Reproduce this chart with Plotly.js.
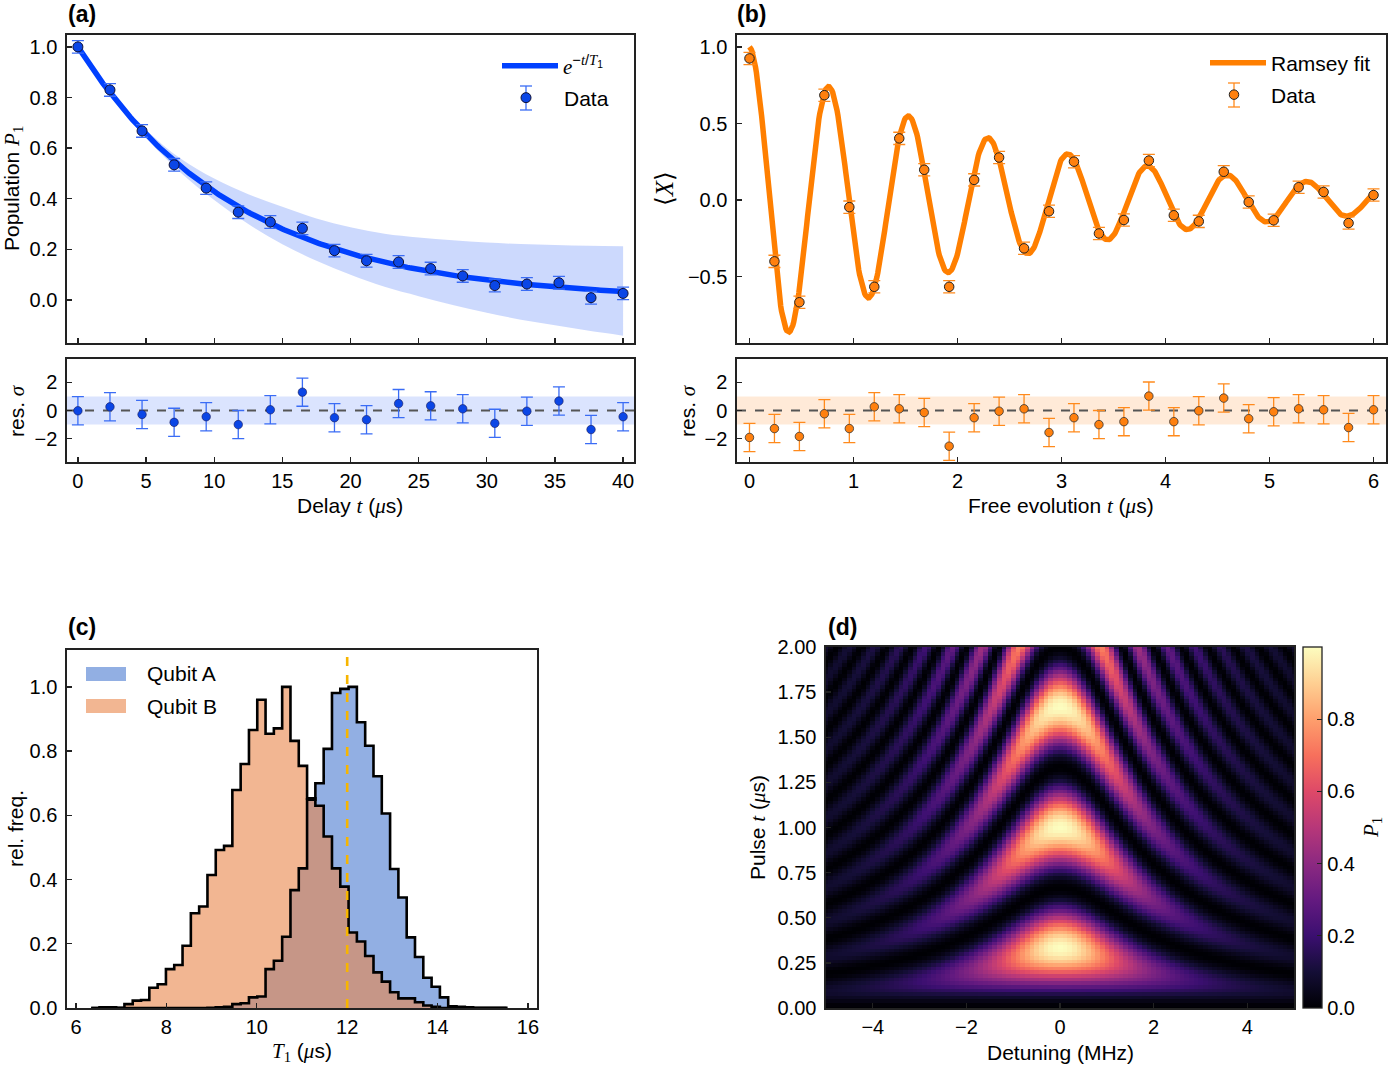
<!DOCTYPE html>
<html>
<head>
<meta charset="utf-8">
<script src="https://cdn.plot.ly/plotly-3.0.1.min.js"></script>
<style>
  html, body { margin: 0; padding: 0; background: #ffffff; }
  #fig { width: 1388px; height: 1067px; }
</style>
</head>
<body>
<div id="fig"></div>
<script>
// ---------------- (a) energy relaxation ----------------
const t1Delay = [0, 2.353, 4.706, 7.059, 9.412, 11.765, 14.118, 16.471, 18.824, 21.176,
                 23.529, 25.882, 28.235, 30.588, 32.941, 35.294, 37.647, 40];
const t1Pop = [1.000, 0.830, 0.668, 0.534, 0.442, 0.347, 0.308, 0.283, 0.195, 0.155,
               0.150, 0.124, 0.095, 0.057, 0.063, 0.068, 0.009, 0.026];
const t1PopErr = [0.025, 0.025, 0.025, 0.025, 0.025, 0.025, 0.025, 0.025, 0.025, 0.025,
                  0.025, 0.025, 0.025, 0.025, 0.025, 0.025, 0.025, 0.025];
const t1Resid = [-0.02, 0.26, -0.28, -0.84, -0.44, -1.00, 0.05, 1.30, -0.51, -0.65,
                 0.49, 0.33, 0.12, -0.91, -0.05, 0.67, -1.35, -0.44];
const t1ResidErr = [1, 1, 1, 1, 1, 1, 1, 1, 1, 1, 1, 1, 1, 1, 1, 1, 1, 1];
const t1FitT1 = 11.8;   // fitted relaxation time (µs)
// confidence band of the fit
const bandDelay = [0, 2.5, 5, 7.5, 10, 12.5, 15, 17.5, 20, 22.5, 25, 27.5, 30, 32.5, 35, 37.5, 40];
const bandUpper = [1.000, 0.812, 0.672, 0.560, 0.480, 0.418, 0.368, 0.322, 0.287, 0.262,
                   0.247, 0.236, 0.227, 0.221, 0.217, 0.214, 0.212];
const bandLower = [1.000, 0.795, 0.640, 0.505, 0.395, 0.300, 0.220, 0.155, 0.100, 0.052,
                   0.015, -0.020, -0.050, -0.078, -0.100, -0.122, -0.141];

// ---------------- (b) Ramsey ----------------
const ramseyT = [0, 0.24, 0.48, 0.72, 0.96, 1.20, 1.44, 1.68, 1.92, 2.16, 2.40, 2.64, 2.88,
                 3.12, 3.36, 3.60, 3.84, 4.08, 4.32, 4.56, 4.80, 5.04, 5.28, 5.52, 5.76, 6.00];
const ramseyX = [0.925, -0.400, -0.667, 0.685, -0.046, -0.566, 0.403, 0.198, -0.566, 0.132,
                 0.278, -0.315, -0.073, 0.251, -0.218, -0.130, 0.258, -0.099, -0.139, 0.185,
                 -0.013, -0.132, 0.084, 0.053, -0.150, 0.033];
const ramseyErr = ramseyT.map(() => 0.04);
const ramseyResid = [-1.91, -1.28, -1.84, -0.23, -1.28, 0.26, 0.12, -0.14, -2.53, -0.51,
                     -0.05, 0.12, -1.56, -0.51, -1.00, -0.79, 1.02, -0.79, -0.02, 0.88,
                     -0.58, -0.09, 0.12, 0.05, -1.21, 0.05];
const ramseyResidErr = ramseyT.map(() => 1);
const ramseyFreqMHz = 1.305;   // fitted detuning frequency
const ramseyT2 = 2.55;         // fitted dephasing time (µs)
const ramseyAmp = 1.0;

// ---------------- (c) T1 histograms ----------------
const histBinStart = 6.336;
const histBinWidth = 0.1837;
const histQubitA = [0, 0, 0, 0, 0, 0, 0, 0, 0, 0,
                    0, 0, 0, 0, 0.001, 0.002, 0.004, 0.012, 0.015, 0.033,
                    0.036, 0.121, 0.147, 0.222, 0.367, 0.435, 0.649, 0.700, 0.807, 0.981,
                    0.994, 1.000, 0.890, 0.817, 0.722, 0.606, 0.433, 0.344, 0.220, 0.159,
                    0.094, 0.066, 0.033, 0.005, 0.004, 0.002, 0.001, 0.001, 0.001, 0.001];
const histQubitB = [0, 0.002, 0.002, 0.001, 0.012, 0.023, 0.025, 0.063, 0.074, 0.121,
                    0.134, 0.194, 0.295, 0.316, 0.414, 0.492, 0.505, 0.679, 0.760, 0.866,
                    0.960, 0.854, 0.871, 1.000, 0.832, 0.754, 0.653, 0.630, 0.534, 0.435,
                    0.378, 0.235, 0.207, 0.162, 0.111, 0.082, 0.049, 0.030, 0.030, 0.018,
                    0.008, 0.004, 0, 0, 0, 0, 0, 0, 0, 0];
const t1Nominal = 12;   // µs, dashed marker

// ---------------- (d) Rabi chevron ----------------
const rabiFreqMHz = 1.5;
const detuningMHz = Array.from({length: 101}, (_, i) => -5 + i * 0.1);
const pulseTimeUs = Array.from({length: 101}, (_, j) => j * 0.02);

// ---------------- derived traces ----------------
const W = 1388, H = 1067;
const PX = v => v / W;
const PY = v => 1 - v / H;

const fitDelay = Array.from({length: 241}, (_, i) => i * 40 / 240);
const fitPop = fitDelay.map(t => Math.exp(-t / t1FitT1));
const ramseyFitT = Array.from({length: 721}, (_, i) => i * 6 / 720);
const ramseyFit = ramseyFitT.map(t => ramseyAmp * Math.exp(-t / ramseyT2) * Math.cos(2 * Math.PI * ramseyFreqMHz * t));

const histEdges = Array.from({length: histQubitA.length + 1}, (_, i) => histBinStart + i * histBinWidth);
function stepXY(counts) {
  const x = [histEdges[0]], y = [0];
  counts.forEach((c, i) => { x.push(histEdges[i]); y.push(c); });
  x.push(histEdges[counts.length]); y.push(0);
  return {x, y};
}
const stepA = stepXY(histQubitA);
const stepB = stepXY(histQubitB);

// P1 = Ω²/(Ω²+Δ²) · sin²(π √(Ω²+Δ²) t)
const rabiZ = pulseTimeUs.map(t => detuningMHz.map(d => {
  const g2 = rabiFreqMHz * rabiFreqMHz + d * d;
  const s = Math.sin(Math.PI * Math.sqrt(g2) * t);
  return rabiFreqMHz * rabiFreqMHz / g2 * s * s;
}));
const rabiMax = Math.max(...rabiZ.map(r => Math.max(...r)));

const magma = [
  [0.0, '#000004'], [0.1, '#140e36'], [0.2, '#3b0f70'], [0.3, '#641a80'],
  [0.4, '#8c2981'], [0.5, '#b73779'], [0.6, '#de4968'], [0.7, '#f7705c'],
  [0.8, '#fe9f6d'], [0.9, '#fecf92'], [1.0, '#fcfdbf']
];

const BLUE = '#0040ff', BLUE_PT = '#0b46e6', BLUE_ERR = '#3a6cf5';
const ORANGE = '#ff7f00', ORANGE_PT = '#ff800e', ORANGE_ERR = '#ff8a1c';
const M = s => `<span style="font-family:'Liberation Serif','DejaVu Serif',serif;font-style:italic">${s}</span>`;
const SERIF = s => `<span style="font-family:'Liberation Serif','DejaVu Serif',serif">${s}</span>`;

const traces = [
  // (a) main
  {x: bandDelay, y: bandLower, xaxis: 'x', yaxis: 'y', mode: 'lines', line: {width: 0, shape: 'spline'},
   showlegend: false, hoverinfo: 'skip'},
  {x: bandDelay, y: bandUpper, xaxis: 'x', yaxis: 'y', mode: 'lines', line: {width: 0, shape: 'spline'},
   fill: 'tonexty', fillcolor: 'rgba(0,64,245,0.2)', showlegend: false, hoverinfo: 'skip'},
  {x: fitDelay, y: fitPop, xaxis: 'x', yaxis: 'y', mode: 'lines', line: {color: BLUE, width: 5.5},
   name: M('e') + '<sup>−' + M('t') + '/' + M('T') + '<sub>1</sub></sup>', legend: 'legend'},
  {x: t1Delay, y: t1Pop, xaxis: 'x', yaxis: 'y', mode: 'markers',
   marker: {color: BLUE_PT, size: 10, line: {color: '#111133', width: 1}},
   error_y: {type: 'data', array: t1PopErr, visible: true, color: BLUE_ERR, thickness: 1.3, width: 6},
   name: 'Data', legend: 'legend2'},
  // (a) residuals
  {x: t1Delay, y: t1Resid, xaxis: 'x2', yaxis: 'y2', mode: 'markers',
   marker: {color: BLUE_PT, size: 8.5, line: {color: '#1a1a55', width: 0.6}},
   error_y: {type: 'data', array: t1ResidErr, visible: true, color: BLUE_ERR, thickness: 1.3, width: 6},
   showlegend: false},
  // (b) main
  {x: ramseyFitT, y: ramseyFit, xaxis: 'x3', yaxis: 'y3', mode: 'lines', line: {color: ORANGE, width: 5.5},
   name: 'Ramsey fit', legend: 'legend3'},
  {x: ramseyT, y: ramseyX, xaxis: 'x3', yaxis: 'y3', mode: 'markers',
   marker: {color: ORANGE_PT, size: 9.5, line: {color: '#222', width: 1}},
   error_y: {type: 'data', array: ramseyErr, visible: true, color: ORANGE_ERR, thickness: 1.3, width: 6},
   name: 'Data', legend: 'legend4'},
  // (b) residuals
  {x: ramseyT, y: ramseyResid, xaxis: 'x4', yaxis: 'y4', mode: 'markers',
   marker: {color: ORANGE_PT, size: 8.5, line: {color: '#333', width: 0.8}},
   error_y: {type: 'data', array: ramseyResidErr, visible: true, color: ORANGE_ERR, thickness: 1.3, width: 6},
   showlegend: false},
  // (c) histograms
  {x: stepA.x, y: stepA.y, xaxis: 'x5', yaxis: 'y5', mode: 'lines', line: {width: 0, shape: 'hv'},
   fill: 'tozeroy', fillcolor: 'rgba(73,122,208,0.6)', showlegend: false, hoverinfo: 'skip'},
  {x: stepB.x, y: stepB.y, xaxis: 'x5', yaxis: 'y5', mode: 'lines', line: {width: 0, shape: 'hv'},
   fill: 'tozeroy', fillcolor: 'rgba(233,133,73,0.6)', showlegend: false, hoverinfo: 'skip'},
  {x: stepA.x, y: stepA.y, xaxis: 'x5', yaxis: 'y5', mode: 'lines', line: {color: '#000', width: 2.6, shape: 'hv'},
   showlegend: false},
  {x: stepB.x, y: stepB.y, xaxis: 'x5', yaxis: 'y5', mode: 'lines', line: {color: '#000', width: 2.6, shape: 'hv'},
   showlegend: false},
  // (d) chevron
  {type: 'heatmap', x: detuningMHz, y: pulseTimeUs, z: rabiZ, xaxis: 'x6', yaxis: 'y6',
   colorscale: magma, zmin: 0, zmax: rabiMax, zsmooth: false, showscale: true,
   colorbar: {x: PX(1303), xanchor: 'left', xref: 'paper', xpad: 0, ypad: 0,
              y: PY(1008), yanchor: 'bottom', yref: 'paper', len: 361 / H, lenmode: 'fraction',
              thickness: 19, thicknessmode: 'pixels', outlinewidth: 1.3, outlinecolor: '#222',
              ticks: 'inside', ticklen: 5, tickwidth: 1.2, tickcolor: '#222',
              ticklabelstandoff: 3,
              tickvals: [0, 0.2, 0.4, 0.6, 0.8], tickformat: '.1f',
              tickfont: {size: 20, family: 'Liberation Sans, Arial, sans-serif'}}}
];

const axisBase = {
  showline: true, mirror: true, linecolor: '#222', linewidth: 1.6,
  ticks: 'inside', ticklen: 5, tickwidth: 1.3, tickcolor: '#222',
  showgrid: false, zeroline: false, tickfont: {size: 20}, fixedrange: true
};
const ax = o => Object.assign({}, axisBase, o);
const yax = o => Object.assign({}, axisBase, {ticklabelstandoff: 4}, o);

const xa = [PX(67), PX(634)], xb = [PX(737), PX(1386)];
const annoFont = {size: 21, color: '#000', family: 'Liberation Sans, Arial, sans-serif'};
const A = (x, y, text, extra) => Object.assign({xref: 'paper', yref: 'paper', x: PX(x), y: PY(y), text,
  showarrow: false, font: annoFont, xanchor: 'center', yanchor: 'middle'}, extra || {});

const legendBase = {xanchor: 'left', yanchor: 'middle', bgcolor: 'rgba(0,0,0,0)', borderwidth: 0,
  font: {size: 21, color: '#000'}};
const L = (x, y, iw) => Object.assign({}, legendBase, {x: PX(x), y: PY(y), itemwidth: iw});

const errDeco = (cx, cy, color) => [
  {type: 'line', xref: 'paper', yref: 'paper', x0: PX(cx), x1: PX(cx), y0: PY(cy - 12), y1: PY(cy + 12), line: {color, width: 1.3}},
  {type: 'line', xref: 'paper', yref: 'paper', x0: PX(cx - 6), x1: PX(cx + 6), y0: PY(cy - 12), y1: PY(cy - 12), line: {color, width: 1.3}},
  {type: 'line', xref: 'paper', yref: 'paper', x0: PX(cx - 6), x1: PX(cx + 6), y0: PY(cy + 12), y1: PY(cy + 12), line: {color, width: 1.3}}
];

const layout = {
  width: W, height: H,
  margin: {l: 0, r: 0, t: 0, b: 0, pad: 0},
  paper_bgcolor: '#fff', plot_bgcolor: '#fff',
  font: {family: 'Liberation Sans, Arial, sans-serif', size: 20, color: '#000'},
  xaxis:  ax({domain: xa, anchor: 'y',  range: [-0.8, 40.8], dtick: 5, showticklabels: false}),
  yaxis:  yax({domain: [PY(343), PY(35)], anchor: 'x', range: [-0.17, 1.047], dtick: 0.2, tickformat: '.1f'}),
  xaxis2: ax({domain: xa, anchor: 'y2', range: [-0.8, 40.8], dtick: 5}),
  yaxis2: yax({domain: [PY(462), PY(359)], anchor: 'x2', range: [-3.65, 3.65], tickvals: [-2, 0, 2]}),
  xaxis3: ax({domain: xb, anchor: 'y3', range: [-0.12, 6.12], dtick: 1, showticklabels: false}),
  yaxis3: yax({domain: [PY(343), PY(35)], anchor: 'x3', range: [-0.933, 1.078], tickvals: [-0.5, 0, 0.5, 1.0], tickformat: '.1f'}),
  xaxis4: ax({domain: xb, anchor: 'y4', range: [-0.12, 6.12], dtick: 1}),
  yaxis4: yax({domain: [PY(462), PY(359)], anchor: 'x4', range: [-3.65, 3.65], tickvals: [-2, 0, 2]}),
  xaxis5: ax({domain: [PX(67), PX(537)], anchor: 'y5', range: [5.8, 16.2], dtick: 2}),
  yaxis5: yax({domain: [PY(1008), PY(650)], anchor: 'x5', range: [0, 1.115], dtick: 0.2, tickformat: '.1f'}),
  xaxis6: ax({domain: [PX(826), PX(1294)], anchor: 'y6', range: [-5, 5], dtick: 2}),
  yaxis6: yax({domain: [PY(1008), PY(647)], anchor: 'x6', range: [0, 2], dtick: 0.25, tickformat: '.2f'}),
  legend:  L(497, 66, 56),
  legend2: L(488, 98, 66),
  legend3: L(1205, 63, 56),
  legend4: L(1197, 95, 64),
  shapes: [
    // residual bands and zero lines
    {type: 'rect', xref: 'x2 domain', yref: 'y2', x0: 0, x1: 1, y0: -1, y1: 1, fillcolor: 'rgba(0,64,245,0.14)', line: {width: 0}, layer: 'below'},
    {type: 'line', xref: 'x2 domain', yref: 'y2', x0: 0, x1: 1, y0: 0, y1: 0, line: {color: '#555', width: 2, dash: 'dash'}, layer: 'below'},
    {type: 'rect', xref: 'x4 domain', yref: 'y4', x0: 0, x1: 1, y0: -1, y1: 1, fillcolor: 'rgba(255,127,14,0.16)', line: {width: 0}, layer: 'below'},
    {type: 'line', xref: 'x4 domain', yref: 'y4', x0: 0, x1: 1, y0: 0, y1: 0, line: {color: '#555', width: 2, dash: 'dash'}, layer: 'below'},
    // nominal T1 marker
    {type: 'line', xref: 'x5', yref: 'y5 domain', x0: t1Nominal, x1: t1Nominal, y0: 0, y1: 1, line: {color: '#f7b500', width: 2.6, dash: 'dash'}},
    // histogram legend patches
    {type: 'rect', xref: 'paper', yref: 'paper', x0: PX(86), x1: PX(126), y0: PY(681), y1: PY(667), fillcolor: 'rgba(73,122,208,0.6)', line: {width: 0}},
    {type: 'rect', xref: 'paper', yref: 'paper', x0: PX(86), x1: PX(126), y0: PY(713), y1: PY(699), fillcolor: 'rgba(233,133,73,0.6)', line: {width: 0}},
    ...errDeco(526, 98, BLUE_ERR),
    ...errDeco(1234, 95, ORANGE_ERR)
  ],
  annotations: [
    A(82, 14, '<b>(a)</b>', {font: Object.assign({}, annoFont, {size: 23})}),
    A(752, 14, '<b>(b)</b>', {font: Object.assign({}, annoFont, {size: 23})}),
    A(82, 627, '<b>(c)</b>', {font: Object.assign({}, annoFont, {size: 23})}),
    A(842, 627, '<b>(d)</b>', {font: Object.assign({}, annoFont, {size: 23})}),
    A(13, 189, 'Population ' + M('P') + SERIF('<sub>1</sub>'), {textangle: -90}),
    A(17, 411, 'res. ' + M('σ'), {textangle: -90}),
    A(350, 506, 'Delay ' + M('t') + ' (' + M('μ') + 's)'),
    A(664, 189, SERIF('⟨') + M('X') + SERIF('⟩'), {textangle: -90, font: Object.assign({}, annoFont, {size: 25})}),
    A(688, 411, 'res. ' + M('σ'), {textangle: -90}),
    A(1061, 506, 'Free evolution ' + M('t') + ' (' + M('μ') + 's)'),
    A(15, 829, 'rel. freq.', {textangle: -90}),
    A(302, 1052, M('T') + SERIF('<sub>1</sub>') + ' (' + M('μ') + 's)'),
    A(758, 828, 'Pulse ' + M('t') + ' (' + M('μ') + 's)', {textangle: -90}),
    A(1060, 1052, 'Detuning (MHz)'),
    A(1372, 828, M('P') + SERIF('<sub>1</sub>'), {textangle: -90}),
    A(145, 674, 'Qubit A', {xanchor: 'left'}),
    A(145, 706, 'Qubit B', {xanchor: 'left'})
  ]
};

Plotly.newPlot('fig', traces, layout, {staticPlot: true, displayModeBar: false});
</script>
</body>
</html>
